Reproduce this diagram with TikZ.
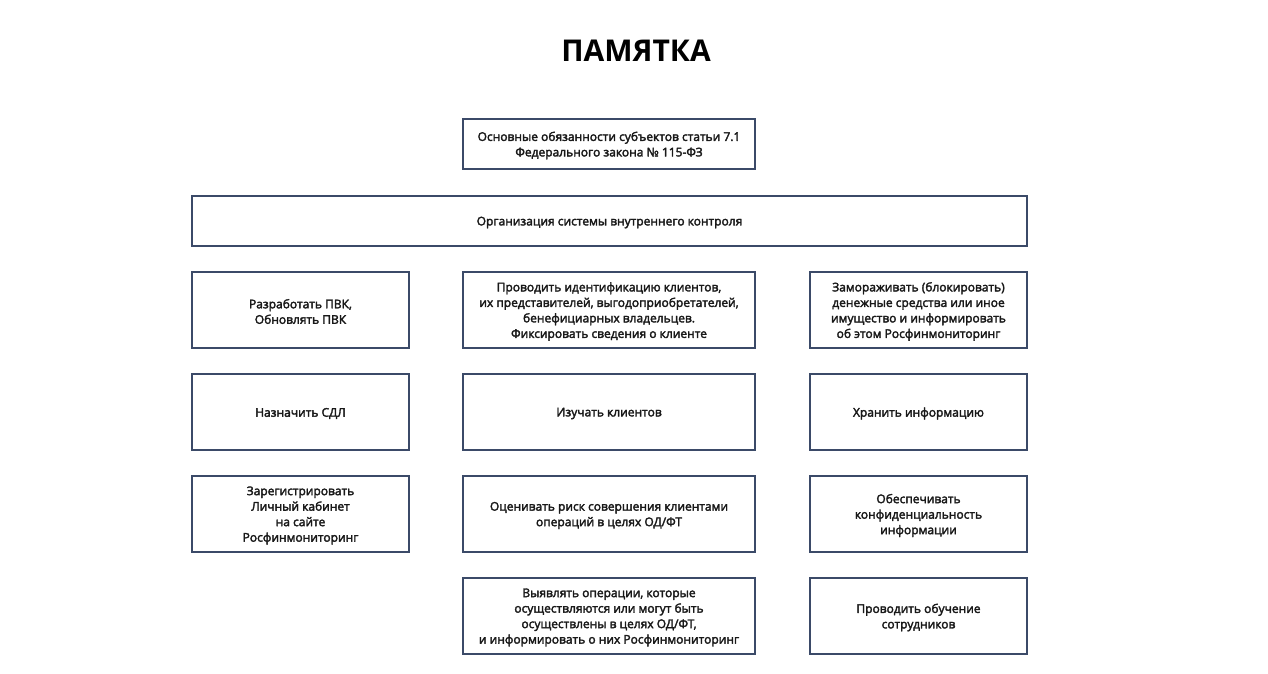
\documentclass[tikz,border=0pt]{standalone}
\usepackage{fontspec}
\setmainfont{Open Sans}
\newfontfamily\boxfont{Open Sans}
\newcommand\semib{\special{pdf:literal direct 2 Tr 0.32 w}}
\newcommand\semie{\special{pdf:literal direct 0 Tr}}
\definecolor{bordc}{HTML}{3B4A68}
\begin{document}
\begin{tikzpicture}[x=1pt,y=-1pt,
  box/.style={draw=bordc,line width=1.2pt,fill=white,inner sep=0pt},
  boxtext/.style={align=center,inner sep=0pt,yshift=-1.5pt,
    font=\boxfont\fontsize{12}{15.5}\selectfont,text=black!90},
]
\useasboundingbox[fill=white] (0,0) rectangle (1268,674);
\node[font=\bfseries\fontsize{30}{32}\selectfont] (title) at (636,51) {ПАМЯТКА};
\newcommand\mybox[6]{\node[box,minimum width=#4-#2,minimum height=#5-#3,
  label={[boxtext]center:{\semib #6\semie}}] (#1) at ({(#2+#4)/2},{(#3+#5)/2}) {};}
\mybox{top}{463}{119}{755}{169}{Основные обязанности субъектов статьи 7.1\\Федерального закона № 115-ФЗ}
\mybox{org}{192}{196}{1027}{246}{Организация системы внутреннего контроля}
\mybox{l1}{192}{272}{409}{348}{Разработать ПВК,\\Обновлять ПВК}
\mybox{m1}{463}{272}{755}{348}{Проводить идентификацию клиентов,\\их представителей, выгодоприобретателей,\\бенефициарных владельцев.\\Фиксировать сведения о клиенте}
\mybox{r1}{810}{272}{1027}{348}{Замораживать (блокировать)\\денежные средства или иное\\имущество и информировать\\об этом Росфинмониторинг}
\mybox{l2}{192}{374}{409}{450}{Назначить СДЛ}
\mybox{m2}{463}{374}{755}{450}{Изучать клиентов}
\mybox{r2}{810}{374}{1027}{450}{Хранить информацию}
\mybox{l3}{192}{476}{409}{552}{Зарегистрировать\\Личный кабинет\\на сайте\\Росфинмониторинг}
\mybox{m3}{463}{476}{755}{552}{Оценивать риск совершения клиентами\\операций в целях ОД/ФТ}
\mybox{r3}{810}{476}{1027}{552}{Обеспечивать\\конфиденциальность\\информации}
\mybox{m4}{463}{578}{755}{654}{Выявлять операции, которые\\осуществляются или могут быть\\осуществлены в целях ОД/ФТ,\\и информировать о них Росфинмониторинг}
\mybox{r4}{810}{578}{1027}{654}{Проводить обучение\\сотрудников}
\end{tikzpicture}
\end{document}
